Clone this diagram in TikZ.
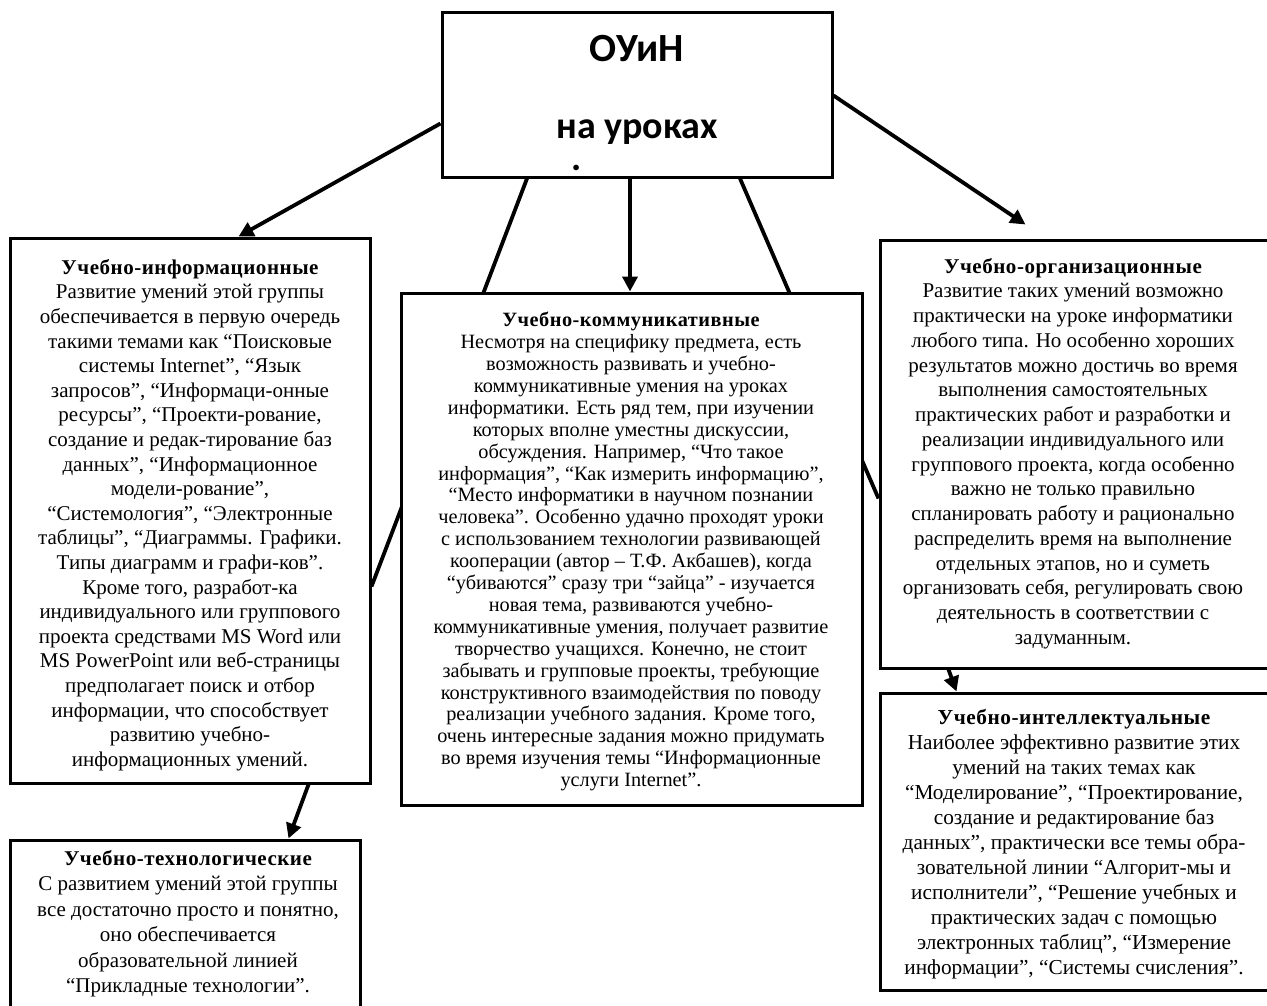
\documentclass[tikz,border=0pt]{standalone}
\usepackage{fontspec}
\setmainfont{Liberation Serif}
\newfontfamily\calib{Carlito}
\usetikzlibrary{arrows.meta}
\pgfdeclarelayer{background}
\pgfsetlayers{background,main}
\newcommand\ttl[1]{{\bfseries\addfontfeature{LetterSpace=2.5}#1}}
\begin{document}
\begin{tikzpicture}[x=1pt,y=-1pt,
  box/.style={draw, line width=3pt, fill=white, inner sep=0pt},
  conn/.style={line width=3.8pt},
  arr/.style={conn, -{Triangle[length=15pt,width=15pt]}},
  txt/.style={align=center, inner sep=0pt, anchor=north},
  bigtxt/.style={txt, font=\fontsize{21}{24.6}\selectfont},
  smalltxt/.style={txt, font=\fontsize{20.3}{21.9}\selectfont},
  head/.style={font=\calib\bfseries, anchor=base, inner sep=0pt}]
\clip (0,0) rectangle (1267,1005);
% boxes
\node[box, minimum width=390pt, minimum height=165pt] (top) at (637,94.5) {};
\node[box, minimum width=360pt, minimum height=545pt] (info) at (190,510.5) {};
\node[box, minimum width=461pt, minimum height=512pt] (comm) at (631.5,549) {};
\node[box, minimum width=400pt, minimum height=428pt] (orgbox) at (1080,454) {};
\node[box, minimum width=400pt, minimum height=297pt] (intel) at (1080,841.5) {};
\node[box, minimum width=350pt, minimum height=180pt] (tech) at (185,930) {};
% top texts
\node[head, font=\calib\bfseries\fontsize{40}{40}\selectfont] (t1) at (637,61) {ОУиН};
\node[head, font=\calib\bfseries\fontsize{38}{38}\selectfont] (t2) at (637,138) {на уроках};
\node[head, font=\calib\bfseries\fontsize{38}{38}\selectfont] (t3) at (577,170) {.};
% texts
\node[bigtxt] (infot) at (190,259) {\ttl{Учебно-информационные}\\
Развитие умений этой группы\\
обеспечивается в первую очередь\\
такими темами как “Поисковые\\
системы Internet”, “Язык\\
запросов”, “Информаци-онные\\
ресурсы”, “Проекти-рование,\\
создание и редак-тирование баз\\
данных”, “Информационное\\
модели-рование”,\\
“Системология”, “Электронные\\
таблицы”, “Диаграммы. Графики.\\
Типы диаграмм и графи-ков”.\\
Кроме того, разработ-ка\\
индивидуального или группового\\
проекта средствами MS Word или\\
MS PowerPoint или веб-страницы\\
предполагает поиск и отбор\\
информации, что способствует\\
развитию учебно-\\
информационных умений.};
\node[smalltxt] (commt) at (631,312) {\ttl{Учебно-коммуникативные}\\
Несмотря на специфику предмета, есть\\
возможность развивать и учебно-\\
коммуникативные умения на уроках\\
информатики. Есть ряд тем, при изучении\\
которых вполне уместны дискуссии,\\
обсуждения. Например, “Что такое\\
информация”, “Как измерить информацию”,\\
“Место информатики в научном познании\\
человека”. Особенно удачно проходят уроки\\
с использованием технологии развивающей\\
кооперации (автор – Т.Ф. Акбашев), когда\\
“убиваются” сразу три “зайца” - изучается\\
новая тема, развиваются учебно-\\
коммуникативные умения, получает развитие\\
творчество учащихся. Конечно, не стоит\\
забывать и групповые проекты, требующие\\
конструктивного взаимодействия по поводу\\
реализации учебного задания. Кроме того,\\
очень интересные задания можно придумать\\
во время изучения темы “Информационные\\
услуги Internet”.};
\node[bigtxt, font=\fontsize{21}{24.75}\selectfont] (orgt) at (1073,258) {\ttl{Учебно-организационные}\\
Развитие таких умений возможно\\
практически на уроке информатики\\
любого типа. Но особенно хороших\\
результатов можно достичь во время\\
выполнения самостоятельных\\
практических работ и разработки и\\
реализации индивидуального или\\
группового проекта, когда особенно\\
важно не только правильно\\
спланировать работу и рационально\\
распределить время на выполнение\\
отдельных этапов, но и суметь\\
организовать себя, регулировать свою\\
деятельность в соответствии с\\
задуманным.};
\node[bigtxt, font=\fontsize{21.3}{25}\selectfont] (intelt) at (1074,709) {\ttl{Учебно-интеллектуальные}\\
Наиболее эффективно развитие этих\\
умений на таких темах как\\
“Моделирование”, “Проектирование,\\
создание и редактирование баз\\
данных”, практически все темы обра-\\
зовательной линии “Алгорит-мы и\\
исполнители”, “Решение учебных и\\
практических задач с помощью\\
электронных таблиц”, “Измерение\\
информации”, “Системы счисления”.};
\node[bigtxt, font=\fontsize{21}{25.5}\selectfont] (techt) at (188,850) {\ttl{Учебно-технологические}\\
С развитием умений этой группы\\
все достаточно просто и понятно,\\
оно обеспечивается\\
образовательной линией\\
“Прикладные технологии”.};
% connectors
\begin{pgfonlayer}{background}
\fill[white] (0,0) rectangle (1267,1005);
\draw[arr] ([yshift=-113pt]top.north west) -- ([xshift=230pt]info.north west);
\draw[arr] ([yshift=-85pt]top.north east) -- ([xshift=147pt,yshift=14pt]orgbox.north west);
\draw[arr] ([xshift=-7pt]top.south) -- ([xshift=-1.5pt]comm.north);
\draw[conn] ([xshift=-110pt]top.south) -- ([yshift=-350pt]info.north east);
\draw[conn] ([xshift=103pt]top.south) -- ([yshift=-260pt]orgbox.north west);
\draw[arr] ([xshift=300pt]info.south west) -- ([xshift=280pt]tech.north west);
\draw[arr] ([xshift=70pt]orgbox.south west) -- ([xshift=78pt]intel.north west);
\end{pgfonlayer}
\end{tikzpicture}
\end{document}
